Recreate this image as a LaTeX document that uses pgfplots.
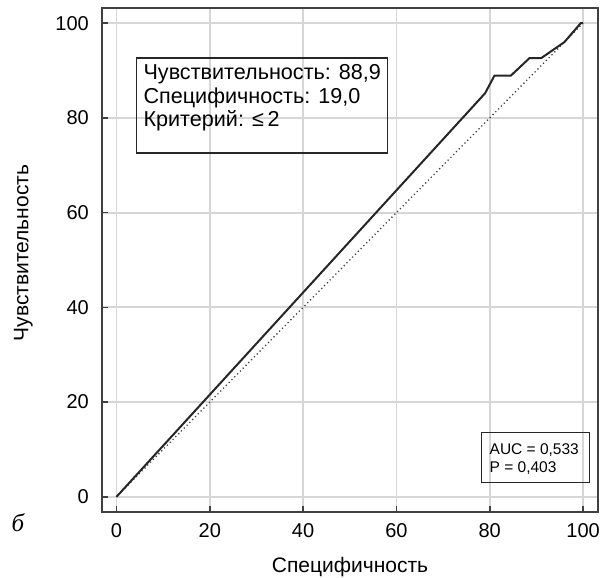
\documentclass[border=0pt]{standalone}
\usepackage{fontspec}
\setmainfont{Liberation Sans}
\newfontfamily\serifit{Liberation Serif}
\usepackage{pgfplots}
\pgfplotsset{compat=1.18}
\begin{document}
\begin{tikzpicture}
\path[use as bounding box] (-102pt,-66pt) rectangle (501pt,512pt);
\begin{axis}[
 at={(0,0)}, anchor=south west,
 scale only axis, width=496pt, height=504pt,
 xmin=-3.1, xmax=103.2, ymin=-3.2, ymax=103.2,
 xtick={0,20,...,100}, ytick={0,20,...,100},
 tick align=inside, xtick pos=bottom, ytick pos=left,
 major tick length=6pt,
 grid=major, major grid style={line width=1.8pt, color=black!16},
 axis line style={line width=1.7pt, color=black!75},
 tick style={line width=1.7pt, color=black!75},
 /pgf/number format/assume math mode=true,
 ticklabel style={font=\fontsize{20}{24}\selectfont},
 xticklabel style={anchor=base, yshift=-25.7pt},
 yticklabel style={anchor=east, inner xsep=0pt, xshift=-13pt},
 clip=false,
]
\addplot[line width=1.3pt, black!75, dash pattern=on 1.2pt off 2.8pt] coordinates {(0,0) (100,100)};
\addplot[line width=2pt, black!85] coordinates {
 (0,0) (79,85.2) (81,88.9) (84.5,88.9) (88.5,92.6) (91,92.6) (96,96.0) (99.5,100) (100,100)};
\node[draw, line width=1.3pt, black!85, minimum width=251pt, minimum height=95pt, anchor=north west, inner sep=0] (b1) at (axis cs:4.2,92.8) {};
\node[anchor=base west, inner sep=0, font=\fontsize{21.6}{24}\selectfont] at ([xshift=7.3pt,yshift=-22.3pt]b1.north west) {Чувствительность: 88,9};
\node[anchor=base west, inner sep=0, font=\fontsize{21.6}{24}\selectfont] at ([xshift=7.3pt,yshift=-46.3pt]b1.north west) {Специфичность: 19,0};
\node[anchor=base west, inner sep=0, font=\fontsize{21.6}{24}\selectfont] at ([xshift=7.3pt,yshift=-69pt]b1.north west) {Критерий: ≤\,2};
\node[draw, line width=1.3pt, black!85, minimum width=108pt, minimum height=50pt, anchor=south east, inner sep=0] (b2) at (axis cs:101.5,2.95) {};
\node[anchor=base west, inner sep=0, font=\fontsize{15.5}{18}\selectfont] at ([xshift=8.7pt,yshift=-23pt]b2.north west) {AUC = 0,533};
\node[anchor=base west, inner sep=0, font=\fontsize{15.5}{18}\selectfont] at ([xshift=8.7pt,yshift=-41pt]b2.north west) {P = 0,403};
\end{axis}
\node[rotate=90, anchor=base, inner sep=0, font=\fontsize{21}{24}\selectfont] at (-73.5pt,259pt) {Чувствительность};
\node[anchor=base, inner sep=0, font=\fontsize{21}{24}\selectfont] at (248pt,-61pt) {Специфичность};
\node[inner sep=0, font=\fontsize{25}{28}\serifit\itshape] at (-84pt,-11pt) {б};
\end{tikzpicture}
\end{document}
